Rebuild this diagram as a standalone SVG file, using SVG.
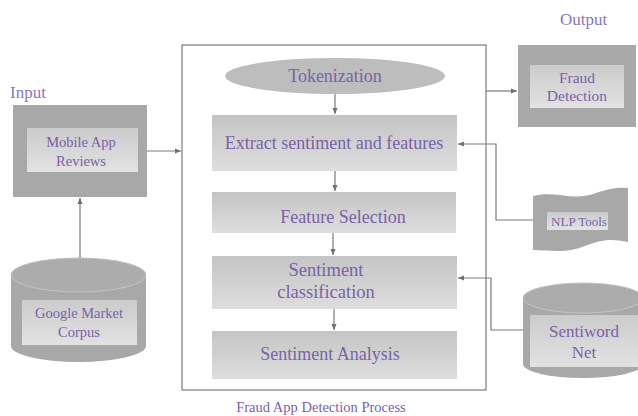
<svg xmlns="http://www.w3.org/2000/svg" width="638" height="416" viewBox="0 0 638 416">
<defs>
<linearGradient id="pg" x1="0" y1="0" x2="0" y2="1">
<stop offset="0" stop-color="#c4c4c4"/><stop offset="1" stop-color="#dedede"/>
</linearGradient>
<linearGradient id="ig" x1="0" y1="0" x2="0" y2="1">
<stop offset="0" stop-color="#cbcbcb"/><stop offset="1" stop-color="#e2e2e2"/>
</linearGradient>
<marker id="ah" viewBox="0 0 8 8" refX="7" refY="4" markerWidth="6" markerHeight="6" orient="auto">
<path d="M0,1 L7,4 L0,7 Z" fill="#707070"/>
</marker>
<style>
text{font-family:'Liberation Serif','DejaVu Serif',serif}
.t{fill:#7a62a8;text-anchor:middle}
.l{fill:#8a78b8}
.c{stroke:#7a7a7a;stroke-width:1.2;fill:none}
.outer{fill:#a8a8a8}
.inner{fill:url(#ig)}
.proc{fill:url(#pg)}
</style>
</defs>
<rect width="638" height="416" fill="#ffffff"/>

<g id="process-frame">
<rect x="182" y="45" width="304" height="345" fill="none" stroke="#7a7a7a" stroke-width="1.2"/>
<text class="t" x="321" y="412" font-size="14.5" font-family="Liberation Serif, serif">Fraud App Detection Process</text>
</g>

<g id="tokenization">
<ellipse cx="335" cy="76" rx="110" ry="18" fill="#bdbdbd"/>
<text class="t" x="335" y="82" font-size="18" font-family="Liberation Serif, serif">Tokenization</text>
</g>

<g id="extract">
<rect class="proc" x="212" y="115" width="245" height="56"/>
<text class="t" x="334" y="149" font-size="18" font-family="Liberation Serif, serif">Extract sentiment and features</text>
</g>

<g id="feature-selection">
<rect class="proc" x="212" y="192" width="244" height="41"/>
<text class="t" x="343" y="223" font-size="18" font-family="Liberation Serif, serif">Feature Selection</text>
</g>

<g id="sentiment-classification">
<rect class="proc" x="212" y="256" width="245" height="53"/>
<text class="t" x="326" y="276" font-size="18.5" font-family="Liberation Serif, serif">Sentiment</text>
<text class="t" x="326" y="298" font-size="18.5" font-family="Liberation Serif, serif">classification</text>
</g>

<g id="sentiment-analysis">
<rect class="proc" x="212" y="331" width="245" height="48"/>
<text class="t" x="330" y="360" font-size="18" font-family="Liberation Serif, serif">Sentiment Analysis</text>
</g>

<g id="input">
<text class="l" x="10" y="98" font-size="17" font-family="Liberation Serif, serif">Input</text>
<rect class="outer" x="13" y="105" width="134" height="92"/>
<rect class="inner" x="27" y="128" width="111" height="44"/>
<text class="t" x="81" y="147" font-size="14.5" font-family="Liberation Serif, serif">Mobile App</text>
<text class="t" x="81" y="166" font-size="14.5" font-family="Liberation Serif, serif">Reviews</text>
</g>

<g id="google-market-corpus">
<path d="M11,275 A67.5,17 0 0 1 146,275 L146,346 A67.5,16 0 0 1 11,346 Z" fill="#a8a8a8"/>
<ellipse cx="78.5" cy="275" rx="67.5" ry="17" fill="#acacac" stroke="#c4c4c4" stroke-width="1"/>
<rect class="inner" x="22" y="300" width="115" height="45"/>
<text class="t" x="79" y="318" font-size="14.5" font-family="Liberation Serif, serif">Google Market</text>
<text class="t" x="79" y="337" font-size="14.5" font-family="Liberation Serif, serif">Corpus</text>
</g>

<g id="output">
<text class="l" x="560" y="25" font-size="17" font-family="Liberation Serif, serif">Output</text>
<rect class="outer" x="518" y="45" width="118" height="82"/>
<rect class="inner" x="530" y="65" width="94" height="43"/>
<text class="t" x="577" y="83" font-size="15.5" font-family="Liberation Serif, serif">Fraud</text>
<text class="t" x="577" y="101" font-size="15.5" font-family="Liberation Serif, serif">Detection</text>
</g>

<g id="nlp-tools">
<path d="M533,196 C556,190 572,202 596,193 C610,188 620,187 628,188 L628,242 C610,238 600,240 585,246 C565,254 550,250 533,250 Z" fill="#a8a8a8"/>
<rect class="inner" x="547" y="212" width="61" height="18"/>
<text class="t" x="579" y="226" font-size="13" font-family="Liberation Serif, serif">NLP Tools</text>
</g>

<g id="sentiword-net">
<path d="M523,298 A60,15 0 0 1 643,298 L643,364 A60,14 0 0 1 523,364 Z" fill="#a8a8a8"/>
<ellipse cx="583" cy="298" rx="60" ry="15" fill="#acacac" stroke="#c4c4c4" stroke-width="1"/>
<rect class="inner" x="530" y="315" width="108" height="52"/>
<text class="t" x="584" y="337" font-size="17" font-family="Liberation Serif, serif">Sentiword</text>
<text class="t" x="584" y="358" font-size="17" font-family="Liberation Serif, serif">Net</text>
</g>

<g id="connectors">
<line class="c" x1="147" y1="151" x2="181" y2="151" marker-end="url(#ah)"/>
<line class="c" x1="80" y1="258" x2="80" y2="198" marker-end="url(#ah)"/>
<line class="c" x1="486" y1="91" x2="517" y2="91" marker-end="url(#ah)"/>
<line class="c" x1="335" y1="94" x2="335" y2="114" marker-end="url(#ah)"/>
<line class="c" x1="335" y1="171" x2="335" y2="191" marker-end="url(#ah)"/>
<line class="c" x1="333" y1="233" x2="333" y2="255" marker-end="url(#ah)"/>
<line class="c" x1="334" y1="309" x2="334" y2="330" marker-end="url(#ah)"/>
<polyline class="c" points="533,220 496,220 496,144 458,144" marker-end="url(#ah)"/>
<polyline class="c" points="523,330 491,330 491,278 458,278" marker-end="url(#ah)"/>
</g>
</svg>
